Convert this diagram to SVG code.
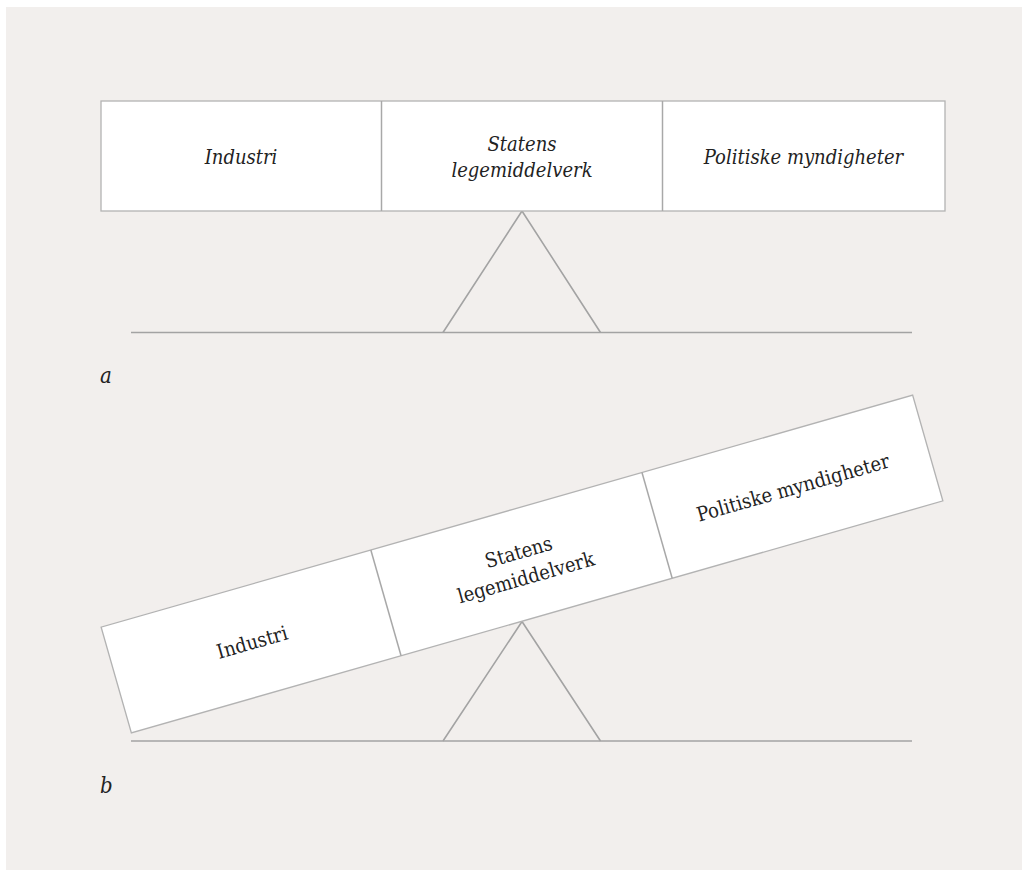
<svg xmlns="http://www.w3.org/2000/svg" width="1022" height="870" viewBox="0 0 1022 870">
<defs>
<style>
.panel{fill:#f2efed}
.box{fill:#ffffff;stroke:#b3b3b3;stroke-width:1.3}
.div{stroke:#a8a8a8;stroke-width:1.5}
.line{stroke:#a3a3a3;stroke-width:1.6;fill:none}
.lbl{font-family:"DejaVu Serif Condensed","DejaVu Serif","Liberation Serif",serif;font-size:20px;fill:#222222;text-anchor:middle}
.it{font-style:italic}
.tag{font-family:"DejaVu Serif Condensed","DejaVu Serif","Liberation Serif",serif;font-size:22px;font-style:italic;fill:#222222}
</style>
</defs>
<rect x="0" y="0" width="1022" height="870" fill="#ffffff"/>
<rect class="panel" x="6" y="7" width="1016" height="863"/>

<g id="connectors">
<polyline class="line" points="443,332.5 522,211 600.5,332.5"/>
<line class="line" x1="131" y1="332.5" x2="912" y2="332.5"/>
<polyline class="line" points="443,741 522,621.5 600.5,741"/>
<line class="line" x1="131" y1="741" x2="912" y2="741"/>
</g>

<g id="scale-a">
<rect class="box" x="101" y="101" width="844" height="110"/>
<line class="div" x1="381.5" y1="101" x2="381.5" y2="211"/>
<line class="div" x1="662.5" y1="101" x2="662.5" y2="211"/>
<g id="a-industri"><text class="lbl it" x="241" y="164">Industri</text></g>
<g id="a-statens"><text class="lbl it" x="522" y="150.5">Statens</text><text class="lbl it" x="522" y="177">legemiddelverk</text></g>
<g id="a-politiske"><text class="lbl it" x="803.5" y="164">Politiske myndigheter</text></g>
</g>
<g id="label-a"><text class="tag" x="100" y="383">a</text></g>

<g id="scale-b" transform="translate(522,564) rotate(-15.95)">
<rect class="box" x="-422" y="-55" width="844" height="110"/>
<line class="div" x1="-141.5" y1="-55" x2="-141.5" y2="55"/>
<line class="div" x1="140.5" y1="-55" x2="140.5" y2="55"/>
<g id="b-industri"><text class="lbl" x="-281" y="8">Industri</text></g>
<g id="b-statens"><text class="lbl" x="0" y="-5.5">Statens</text><text class="lbl" x="0" y="21">legemiddelverk</text></g>
<g id="b-politiske"><text class="lbl" x="281.5" y="8">Politiske myndigheter</text></g>
</g>
<g id="label-b"><text class="tag" x="100" y="793">b</text></g>
</svg>
